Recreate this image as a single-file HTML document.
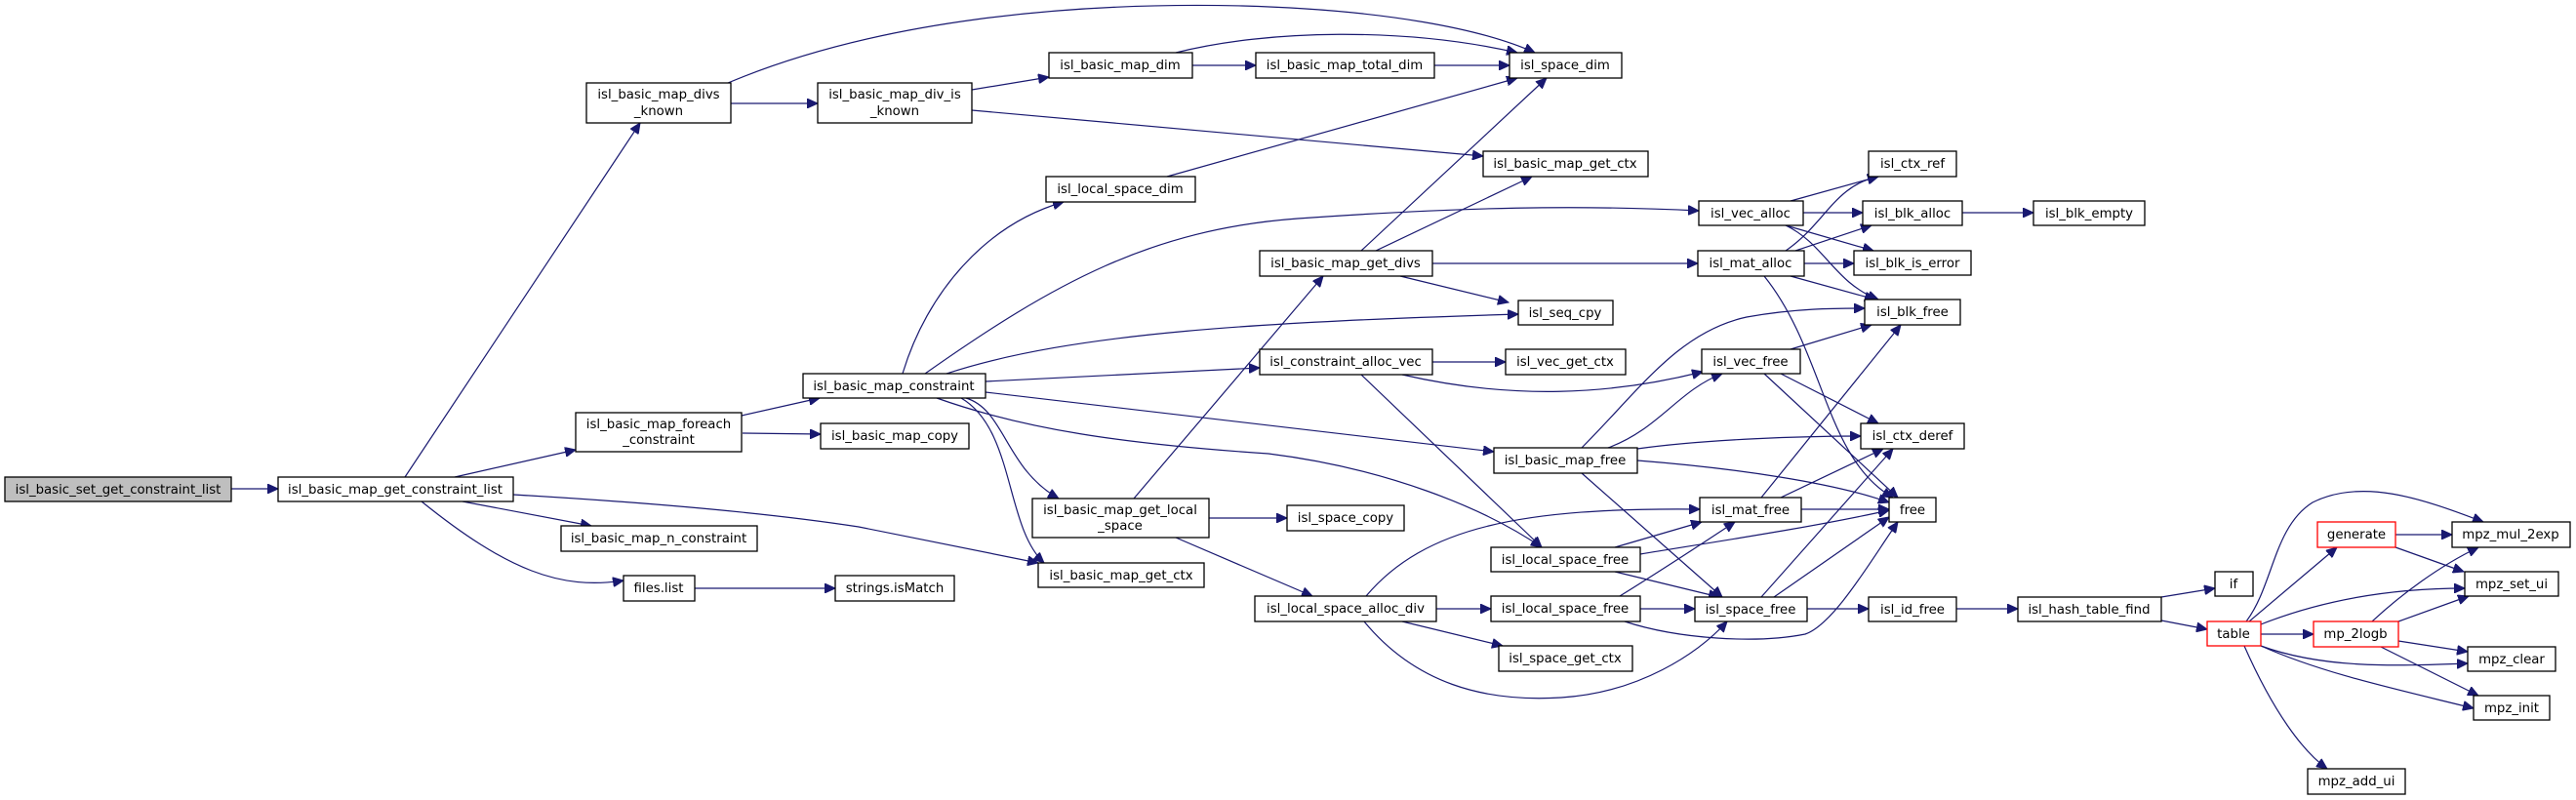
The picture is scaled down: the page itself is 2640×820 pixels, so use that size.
<!DOCTYPE html>
<html><head><meta charset="utf-8"><style>
html,body{margin:0;padding:0;background:#fff;}
svg{display:block;}
text{font-family:"DejaVu Sans","Liberation Sans",sans-serif;font-size:13.3px;fill:#000;text-anchor:middle;}
.b{fill:#fff;stroke:#000;stroke-width:1.3;}
.r{fill:#fff;stroke:#ff0000;stroke-width:1.3;}
.g{fill:#bfbfbf;stroke:#000;stroke-width:1.3;}
path{fill:none;stroke:#191970;stroke-width:1.2;marker-end:url(#a);}
</style></head><body>
<svg width="2640" height="820" viewBox="0 0 2640 820" xmlns="http://www.w3.org/2000/svg">
<defs><marker id="a" markerUnits="userSpaceOnUse" markerWidth="12" markerHeight="10" refX="11" refY="5" orient="auto"><path d="M0,0 L11,5 L0,10 Z" style="fill:#191970;stroke:#191970;stroke-width:1;marker-end:none"/></marker></defs>

<!-- edges -->
<path d="M237,501 L285,501"/>
<path d="M415,489 L656,126"/>
<path d="M466,489 L590,461"/>
<path d="M474,514 L606,539"/>
<path d="M432,514 C520,585 575,605 639,595"/>
<path d="M526,507 Q750,520 880,540 L1064,577"/>
<path d="M760,426 L840,408"/>
<path d="M761,444 L841,445"/>
<path d="M712,603 L856,603"/>
<path d="M746,85 C900,20 1100,2 1273,6 C1420,10 1520,30 1573,54"/>
<path d="M749,106 L838,106"/>
<path d="M996,92 L1075,79"/>
<path d="M996,113 L1520,160"/>
<path d="M1222,67 L1287,67"/>
<path d="M1205,54 C1300,30 1440,28 1555,54"/>
<path d="M1470,67 L1547,67"/>
<path d="M1196,181 L1555,80"/>
<path d="M925,383 C950,300 1010,230 1090,207"/>
<path d="M948,383 C1080,290 1180,235 1330,224 C1500,212 1620,210 1741,216"/>
<path d="M970,383 C1100,340 1300,330 1556,322"/>
<path d="M1010,391 L1291,377"/>
<path d="M1010,402 L1531,463"/>
<path d="M960,408 C1050,440 1150,455 1300,465 C1420,480 1520,520 1580,561"/>
<path d="M990,408 C1030,420 1030,480 1085,511"/>
<path d="M985,408 C1040,440 1030,540 1070,577"/>
<path d="M1395,257 L1585,80"/>
<path d="M1410,257 L1570,181"/>
<path d="M1468,270 L1740,270"/>
<path d="M1435,283 L1546,310"/>
<path d="M1162,511 L1356,283"/>
<path d="M1239,531 L1319,531"/>
<path d="M1205,551 L1345,611"/>
<path d="M1468,371 L1543,371"/>
<path d="M1437,384 C1550,410 1650,405 1745,381"/>
<path d="M1395,384 L1580,561"/>
<path d="M1400,611 C1460,540 1560,520 1742,522"/>
<path d="M1472,624 L1528,624"/>
<path d="M1437,637 L1540,662"/>
<path d="M1398,637 C1450,700 1520,720 1600,715 C1680,710 1740,670 1770,637"/>
<path d="M1655,561 L1744,535"/>
<path d="M1681,568 C1760,555 1860,540 1936,523"/>
<path d="M1655,586 L1762,612"/>
<path d="M1681,624 L1737,624"/>
<path d="M1660,611 C1710,580 1740,560 1778,535"/>
<path d="M1665,637 C1720,655 1800,660 1850,650 C1880,640 1920,570 1945,535"/>
<path d="M1648,459 C1700,440 1720,400 1765,383"/>
<path d="M1621,459 C1680,400 1720,340 1790,325 C1840,316 1880,316 1911,316"/>
<path d="M1678,460 C1750,450 1850,447 1907,447"/>
<path d="M1678,472 C1780,480 1880,495 1936,515"/>
<path d="M1621,485 L1765,612"/>
<path d="M1835,206 L1925,181"/>
<path d="M1848,218 L1909,218"/>
<path d="M1830,231 L1920,257"/>
<path d="M1830,231 C1870,250 1880,290 1925,307"/>
<path d="M1830,257 C1870,230 1880,190 1925,181"/>
<path d="M1840,257 L1918,231"/>
<path d="M1849,270 L1900,270"/>
<path d="M1835,283 L1922,307"/>
<path d="M1808,283 C1870,360 1870,470 1940,510"/>
<path d="M2011,218 L2084,218"/>
<path d="M1835,358 L1918,333"/>
<path d="M1825,383 L1925,434"/>
<path d="M1808,383 L1945,510"/>
<path d="M1805,510 L1948,333"/>
<path d="M1825,510 L1930,460"/>
<path d="M1846,522 L1936,522"/>
<path d="M1805,612 L1940,460"/>
<path d="M1818,612 L1936,530"/>
<path d="M1852,624 L1915,624"/>
<path d="M2005,624 L2068,624"/>
<path d="M2215,612 L2270,603"/>
<path d="M2215,636 L2262,645"/>
<path d="M2305,637 L2395,561"/>
<path d="M2302,637 C2330,600 2330,540 2370,515 C2420,490 2480,510 2545,535"/>
<path d="M2317,640 C2380,615 2450,603 2526,603"/>
<path d="M2317,650 L2371,650"/>
<path d="M2317,662 C2380,685 2450,683 2529,680"/>
<path d="M2317,662 C2380,690 2450,705 2535,726"/>
<path d="M2300,662 C2330,730 2360,770 2385,788"/>
<path d="M2455,548 L2513,548"/>
<path d="M2455,561 L2525,586"/>
<path d="M2431,637 C2460,610 2500,580 2540,561"/>
<path d="M2458,637 L2530,611"/>
<path d="M2458,657 L2529,668"/>
<path d="M2440,663 L2540,713"/>

<!-- nodes -->
<rect class="g" x="5" y="489" width="232" height="25"/><text x="121" y="506">isl_basic_set_get_constraint_list</text>
<rect class="b" x="285" y="489" width="241" height="25"/><text x="405" y="506">isl_basic_map_get_constraint_list</text>
<rect class="b" x="590" y="423" width="170" height="40"/><text x="675" y="439">isl_basic_map_foreach</text><text x="675" y="455">_constraint</text>
<rect class="b" x="575" y="539" width="201" height="26"/><text x="675" y="556">isl_basic_map_n_constraint</text>
<rect class="b" x="639" y="590" width="73" height="26"/><text x="675" y="607">files.list</text>
<rect class="b" x="856" y="590" width="122" height="26"/><text x="917" y="607">strings.isMatch</text>
<rect class="b" x="841" y="434" width="152" height="26"/><text x="917" y="451">isl_basic_map_copy</text>
<rect class="b" x="601" y="85" width="148" height="41"/><text x="675" y="101">isl_basic_map_divs</text><text x="675" y="118">_known</text>
<rect class="b" x="838" y="85" width="158" height="41"/><text x="917" y="101">isl_basic_map_div_is</text><text x="917" y="118">_known</text>
<rect class="b" x="823" y="383" width="187" height="25"/><text x="916" y="400">isl_basic_map_constraint</text>
<rect class="b" x="1075" y="54" width="147" height="26"/><text x="1148" y="71">isl_basic_map_dim</text>
<rect class="b" x="1287" y="54" width="183" height="26"/><text x="1378" y="71">isl_basic_map_total_dim</text>
<rect class="b" x="1547" y="54" width="115" height="26"/><text x="1604" y="71">isl_space_dim</text>
<rect class="b" x="1520" y="155" width="169" height="26"/><text x="1604" y="172">isl_basic_map_get_ctx</text>
<rect class="b" x="1072" y="181" width="153" height="26"/><text x="1148" y="198">isl_local_space_dim</text>
<rect class="b" x="1741" y="206" width="107" height="25"/><text x="1794" y="223">isl_vec_alloc</text>
<rect class="b" x="1291" y="257" width="177" height="26"/><text x="1379" y="274">isl_basic_map_get_divs</text>
<rect class="b" x="1740" y="257" width="109" height="26"/><text x="1794" y="274">isl_mat_alloc</text>
<rect class="b" x="1556" y="308" width="97" height="25"/><text x="1604" y="325">isl_seq_cpy</text>
<rect class="b" x="1291" y="358" width="177" height="26"/><text x="1379" y="375">isl_constraint_alloc_vec</text>
<rect class="b" x="1543" y="358" width="123" height="26"/><text x="1604" y="375">isl_vec_get_ctx</text>
<rect class="b" x="1744" y="358" width="101" height="25"/><text x="1794" y="375">isl_vec_free</text>
<rect class="b" x="1531" y="459" width="147" height="26"/><text x="1604" y="476">isl_basic_map_free</text>
<rect class="b" x="1058" y="511" width="181" height="40"/><text x="1148" y="527">isl_basic_map_get_local</text><text x="1148" y="543">_space</text>
<rect class="b" x="1319" y="518" width="120" height="26"/><text x="1379" y="535">isl_space_copy</text>
<rect class="b" x="1064" y="577" width="170" height="25"/><text x="1149" y="594">isl_basic_map_get_ctx</text>
<rect class="b" x="1528" y="561" width="153" height="25"/><text x="1604" y="578">isl_local_space_free</text>
<rect class="b" x="1286" y="611" width="186" height="26"/><text x="1379" y="628">isl_local_space_alloc_div</text>
<rect class="b" x="1528" y="611" width="153" height="26"/><text x="1604" y="628">isl_local_space_free</text>
<rect class="b" x="1536" y="662" width="137" height="26"/><text x="1604" y="679">isl_space_get_ctx</text>
<rect class="b" x="1742" y="510" width="104" height="25"/><text x="1794" y="527">isl_mat_free</text>
<rect class="b" x="1737" y="612" width="115" height="25"/><text x="1794" y="629">isl_space_free</text>
<rect class="b" x="1915" y="155" width="90" height="26"/><text x="1960" y="172">isl_ctx_ref</text>
<rect class="b" x="1909" y="206" width="102" height="25"/><text x="1960" y="223">isl_blk_alloc</text>
<rect class="b" x="2084" y="206" width="114" height="25"/><text x="2141" y="223">isl_blk_empty</text>
<rect class="b" x="1900" y="257" width="120" height="25"/><text x="1960" y="274">isl_blk_is_error</text>
<rect class="b" x="1911" y="307" width="98" height="26"/><text x="1960" y="324">isl_blk_free</text>
<rect class="b" x="1907" y="434" width="106" height="26"/><text x="1960" y="451">isl_ctx_deref</text>
<rect class="b" x="1936" y="510" width="48" height="25"/><text x="1960" y="527">free</text>
<rect class="b" x="1915" y="612" width="90" height="25"/><text x="1960" y="629">isl_id_free</text>
<rect class="b" x="2068" y="612" width="147" height="25"/><text x="2141" y="629">isl_hash_table_find</text>
<rect class="b" x="2270" y="586" width="39" height="25"/><text x="2289" y="603">if</text>
<rect class="r" x="2262" y="637" width="55" height="25"/><text x="2289" y="654">table</text>
<rect class="r" x="2375" y="535" width="80" height="26"/><text x="2415" y="552">generate</text>
<rect class="r" x="2371" y="637" width="87" height="26"/><text x="2414" y="654">mp_2logb</text>
<rect class="b" x="2513" y="535" width="121" height="26"/><text x="2573" y="552">mpz_mul_2exp</text>
<rect class="b" x="2526" y="586" width="96" height="25"/><text x="2574" y="603">mpz_set_ui</text>
<rect class="b" x="2529" y="663" width="90" height="25"/><text x="2574" y="680">mpz_clear</text>
<rect class="b" x="2535" y="713" width="78" height="25"/><text x="2574" y="730">mpz_init</text>
<rect class="b" x="2365" y="788" width="100" height="26"/><text x="2415" y="805">mpz_add_ui</text>
</svg>
</body></html>
